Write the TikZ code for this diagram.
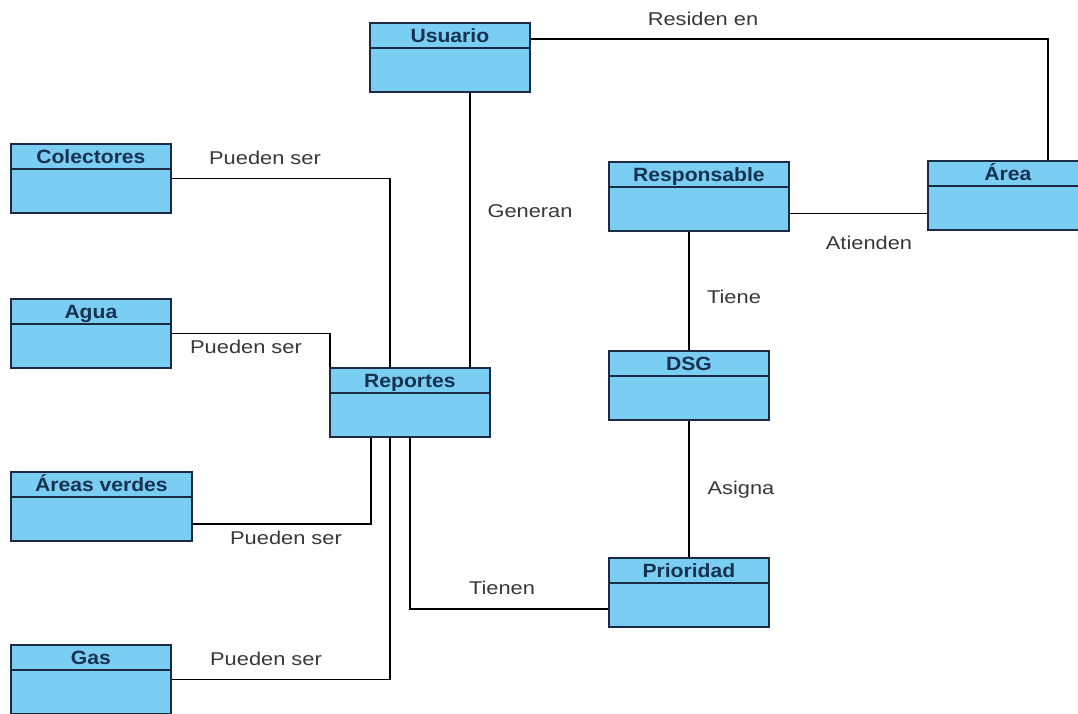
\documentclass[tikz,border=0pt]{standalone}
\usepackage{fontspec}
\setmainfont{Liberation Sans}
\newfontfamily\titlefont[FakeStretch=1.1]{Liberation Sans}
\newfontfamily\labelfont[FakeStretch=1.18]{Liberation Sans}
\usetikzlibrary{calc}

\definecolor{classfill}{HTML}{7ACDF3}
\definecolor{classedge}{HTML}{1C2A45}
\definecolor{titleink}{HTML}{17324F}
\definecolor{labelink}{HTML}{383838}

\tikzset{
  classbox/.style={draw=classedge, line width=1.8pt, fill=classfill,
    rectangle, inner sep=0pt, anchor=north west},
  classtitle/.style={anchor=base, inner sep=0pt, text=titleink,
    font=\titlefont\bfseries\fontsize{19.2}{21}\selectfont},
  link/.style={draw=black, line width=1.4pt},
  linklabel/.style={anchor=base, inner sep=0pt, text=labelink,
    font=\labelfont\fontsize{18.5}{20}\selectfont},
}

% \umlclass{name}{x}{y}{width}{title}: box with a title compartment
\newcommand{\umlclass}[5]{%
  \node[classbox, minimum width=#4pt, minimum height=69pt] (#1) at (#2,#3) {};
  \draw[classedge, line width=1.6pt]
    ([yshift=-26pt]#1.north west) -- ([yshift=-26pt]#1.north east);
  \node[classtitle] (#1-t) at ([yshift=-20pt]#1.north) {#5};
}

\begin{document}
\begin{tikzpicture}[x=1pt, y=-1pt]
  \useasboundingbox (0,0) rectangle (1078,713);
  \clip (0,0) rectangle (1078,713);
  \fill[white] (0,0) rectangle (1078,713);

  % classes
  \umlclass{usuario}{369}{22}{160}{Usuario}
  \umlclass{colectores}{10}{143}{160}{Colectores}
  \umlclass{agua}{10}{298}{160}{Agua}
  \umlclass{verdes}{10}{471}{181}{Áreas verdes}
  \umlclass{gas}{10}{644}{160}{Gas}
  \umlclass{reportes}{329}{367}{160}{Reportes}
  \umlclass{responsable}{608}{161}{180}{Responsable}
  \umlclass{dsg}{608}{350}{160}{DSG}
  \umlclass{prioridad}{608}{557}{160}{Prioridad}
  \umlclass{area}{927}{160}{160}{Área}

  % relations
  \draw[link] ([yshift=-17pt]usuario.north east) -| ([xshift=40pt]area.north);
  \draw[link] ([xshift=20pt]usuario.south) -- ([xshift=60pt]reportes.north);
  \draw[link] (colectores.east) -| ([xshift=-20pt]reportes.north);
  \draw[link] (agua.east) -| ([xshift=1pt]reportes.north west);
  \draw[link] ([xshift=-39pt]reportes.south) |- ([yshift=-17.5pt]verdes.east);
  \draw[link] ([xshift=-20pt]reportes.south) |- (gas.east);
  \draw[link] (reportes.south) |- ([yshift=-16.5pt]prioridad.west);
  \coordinate (resp-out) at ([yshift=-17pt]responsable.east);
  \draw[link] (resp-out) -- (area.west |- resp-out);
  \draw[link] ([xshift=-10pt]responsable.south) -- (dsg.north);
  \draw[link] (dsg.south) -- (prioridad.north);

  % relation names
  \node[linklabel] (l-residen) at (703,25) {Residen en};
  \node[linklabel] (l-colectores) at (265,164) {Pueden ser};
  \node[linklabel] (l-generan) at (530,217) {Generan};
  \node[linklabel] (l-atienden) at (869,249) {Atienden};
  \node[linklabel] (l-tiene) at (734,303) {Tiene};
  \node[linklabel] (l-agua) at (246,353) {Pueden ser};
  \node[linklabel] (l-asigna) at (741,494) {Asigna};
  \node[linklabel] (l-verdes) at (286,544) {Pueden ser};
  \node[linklabel] (l-tienen) at (502,594) {Tienen};
  \node[linklabel] (l-gas) at (266,665) {Pueden ser};
\end{tikzpicture}
\end{document}
